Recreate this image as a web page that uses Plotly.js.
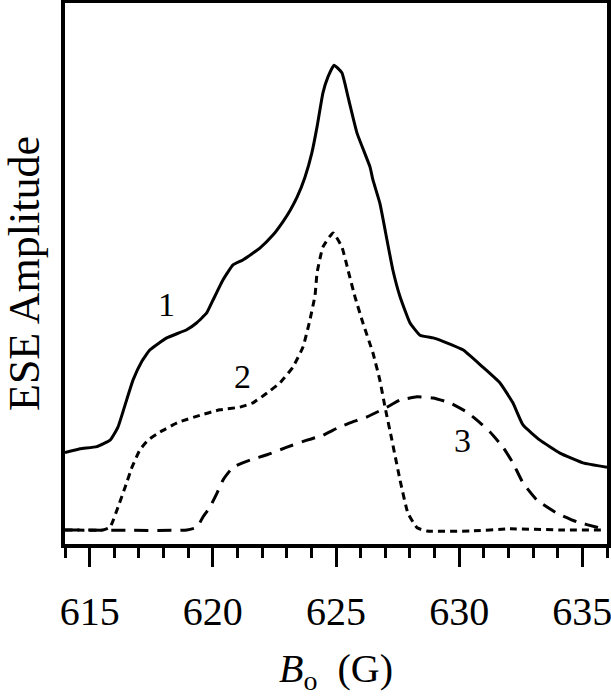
<!DOCTYPE html>
<html>
<head>
<meta charset="utf-8">
<script src="https://cdn.plot.ly/plotly-3.0.1.min.js"></script>
<style>html,body{margin:0;padding:0;background:#fff;}#chart{width:611px;height:698px;}</style>
</head>
<body>
<div id="chart"></div>
<script>
// Curve 1 (solid)
const x1 = [614.0, 614.61, 615.29, 615.83, 616.15, 616.50, 616.76, 617.11, 617.45, 618.13, 618.94, 619.35, 619.75, 620.01, 620.41, 620.82, 621.22, 621.91, 622.44, 622.85, 623.13, 623.42, 623.74, 624.02, 624.23, 624.47, 624.67, 624.92, 625.24, 625.49, 625.85, 626.38, 626.50, 626.78, 627.07, 627.31, 627.60, 628.00, 628.41, 628.94, 629.22, 630.15, 630.96, 631.65, 632.18, 632.59, 633.28, 634.09, 635.02, 636.0];
const y1 = [16.9, 17.6, 18.0, 19.2, 21.6, 26.6, 30.3, 33.7, 35.9, 38.1, 39.6, 40.9, 42.7, 45.1, 48.8, 51.6, 52.5, 54.7, 57.1, 59.6, 61.6, 64.1, 67.8, 72.3, 77.1, 83.4, 86.3, 88.5, 87.1, 82.6, 76.0, 69.7, 67.3, 63.0, 56.2, 50.6, 45.7, 40.9, 38.6, 38.1, 37.7, 35.9, 32.7, 29.8, 26.1, 22.0, 19.2, 16.8, 15.0, 14.2];
// Curve 2 (short dashes)
const x2 = [614.0, 615.54, 615.83, 616.15, 616.44, 616.72, 617.04, 617.37, 617.86, 618.55, 619.48, 620.29, 621.10, 621.63, 622.20, 622.73, 623.25, 623.66, 623.94, 624.15, 624.23, 624.47, 624.88, 625.24, 625.49, 625.77, 626.09, 626.50, 626.78, 626.99, 627.27, 627.60, 627.92, 628.29, 628.69, 630.44, 632.06, 634.09, 635.92];
const y2 = [2.6, 2.6, 3.1, 6.8, 10.5, 14.2, 17.4, 19.2, 20.7, 22.4, 23.8, 24.8, 25.3, 26.1, 27.9, 29.8, 32.7, 36.4, 41.4, 46.0, 50.1, 54.9, 57.5, 54.9, 50.6, 45.7, 40.9, 35.3, 30.3, 25.3, 19.2, 11.8, 5.7, 3.0, 2.4, 2.4, 2.8, 2.6, 2.6];
// Curve 3 (long dashes)
const x3 = [614.0, 618.95, 619.36, 619.60, 619.88, 620.17, 620.41, 620.82, 621.51, 622.20, 623.01, 623.82, 624.47, 625.04, 625.57, 626.26, 627.07, 627.60, 628.29, 628.94, 629.62, 630.31, 630.72, 631.25, 631.78, 632.18, 632.59, 633.16, 633.97, 634.78, 635.59, 636.0];
const y3 = [2.6, 2.6, 3.1, 5.0, 6.8, 9.4, 11.8, 14.2, 15.5, 16.5, 17.9, 19.2, 20.1, 21.4, 22.4, 23.5, 25.3, 26.6, 27.2, 27.0, 26.1, 24.4, 22.9, 20.7, 17.9, 15.0, 11.3, 8.1, 5.7, 4.1, 3.1, 2.6];
// Curve labels
const labelText = ["1", "2", "3"];
const labelX = [618.14, 621.22, 630.15];
const labelY = [44.2, 30.9, 19.2];
const tickVals = [615, 620, 625, 630, 635];

const font = "Liberation Serif, Times New Roman, serif";
const traces = [
  {x: x1, y: y1, mode: "lines", line: {color: "#000", width: 3, dash: "solid", shape: "spline", smoothing: 0.4}, name: "1"},
  {x: x2, y: y2, mode: "lines", line: {color: "#000", width: 3, dash: "7px,5px", shape: "spline", smoothing: 0.4}, name: "2"},
  {x: x3, y: y3, mode: "lines", line: {color: "#000", width: 3, dash: "14px,9px", shape: "spline", smoothing: 0.4}, name: "3"}
];
const annotations = labelText.map((t, i) => ({
  x: labelX[i], y: labelY[i], xref: "x", yref: "y", text: t, showarrow: false,
  font: {family: font, size: 34, color: "#000"}
}));
const layout = {
  width: 611, height: 698,
  margin: {l: 65, r: 4, t: 3, b: 154},
  paper_bgcolor: "#fff", plot_bgcolor: "#fff",
  showlegend: false,
  annotations: annotations,
  xaxis: {
    range: [614, 636], showgrid: false, zeroline: false,
    showline: true, linecolor: "#000", linewidth: 4, mirror: true,
    tickmode: "array", tickvals: tickVals, ticktext: tickVals.map(String),
    ticks: "outside", ticklen: 19, tickwidth: 3, tickcolor: "#000",
    ticklabelstandoff: 10, ticklabeloverflow: "allow",
    minor: {dtick: 1, tick0: 614, ticks: "outside", ticklen: 10, tickwidth: 3, tickcolor: "#000"},
    tickfont: {family: font, size: 40, color: "#000"},
    title: {text: "<i>B</i><sub>o</sub>  (G)", font: {family: font, size: 40, color: "#000"}, standoff: 22}
  },
  yaxis: {
    range: [0, 100], showgrid: false, zeroline: false,
    showline: true, linecolor: "#000", linewidth: 4, mirror: true,
    showticklabels: false, ticks: "",
    title: {text: "ESE Amplitude", font: {family: font, size: 44, color: "#000"}, standoff: 24}
  }
};
Plotly.newPlot("chart", traces, layout, {displayModeBar: false, staticPlot: true});
</script>
</body>
</html>
